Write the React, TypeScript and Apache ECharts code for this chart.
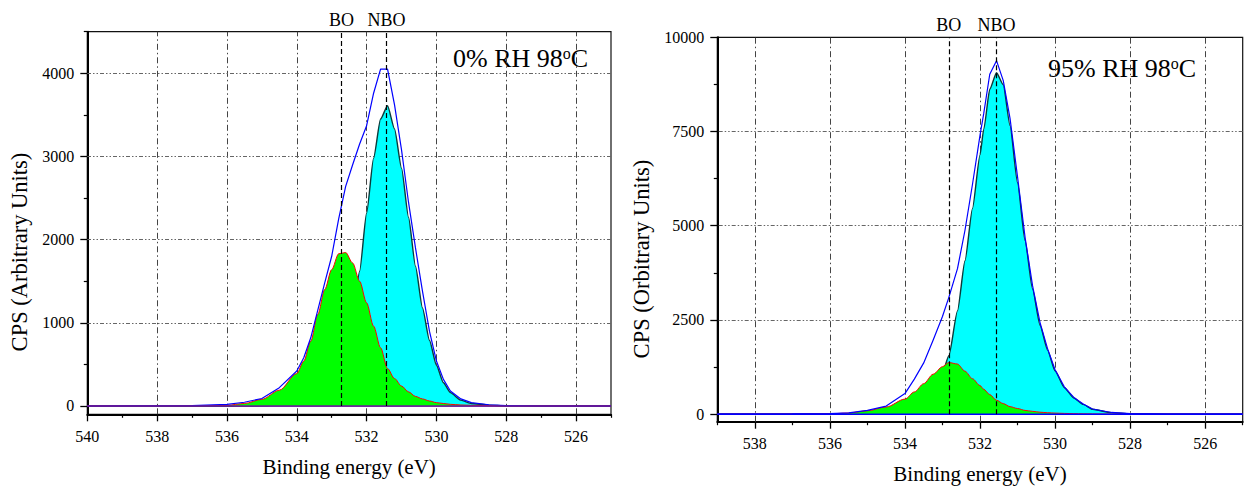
import React, { useEffect, useRef } from 'react';
import * as echarts from 'echarts';

const FONT = '"Liberation Serif", "Times New Roman", Times, serif';

// ---------- Left panel (0% RH 98 oC) ----------
const leftEnergy = [540, 537, 536, 535.5, 535, 534.5, 534, 533.8, 533.6, 533.4, 533.2, 533, 532.8, 532.6, 532.4, 532.2, 532, 531.8, 531.6, 531.4, 531.2, 531, 530.8, 530.6, 530.4, 530.2, 530, 529.8, 529.6, 529.3, 529, 528.5, 528, 527, 525];
const leftEnvelope = [0, 5, 20, 45, 90, 220, 420, 580, 820, 1150, 1480, 1800, 2250, 2640, 2900, 3150, 3370, 3760, 4050, 4050, 3620, 3080, 2450, 1900, 1380, 900, 540, 320, 180, 85, 40, 15, 5, 0, 0];
const leftBO = [0, 3, 8, 30, 80, 190, 390, 540, 780, 1100, 1400, 1640, 1830, 1845, 1720, 1500, 1240, 960, 700, 450, 330, 240, 170, 115, 85, 60, 40, 30, 20, 12, 8, 4, 2, 0, 0];
const leftNBO = [0, 0, 0, 2, 5, 12, 30, 45, 70, 110, 170, 280, 450, 700, 1100, 1620, 2320, 2980, 3450, 3610, 3330, 2860, 2270, 1680, 1180, 790, 490, 280, 160, 70, 30, 10, 3, 0, 0];
const leftPeakPositions = [532.72, 531.43];
const leftXMajor = [526, 528, 530, 532, 534, 536, 538, 540];
const leftXMinor = [525, 527, 529, 531, 533, 535, 537, 539];
const leftYMajor = [0, 1000, 2000, 3000, 4000];
const leftYMinor = [500, 1500, 2500, 3500, 4500];
const leftXGrid = [526, 528, 530, 532, 534, 536, 538];
const leftYGrid = [1000, 2000, 3000, 4000];

// ---------- Right panel (95% RH 98 oC) ----------
const rightEnergy = [539, 537, 536, 535.5, 535, 534.5, 534, 533.75, 533.5, 533.25, 533, 532.83, 532.6, 532.4, 532.2, 532, 531.9, 531.74, 531.56, 531.38, 531.2, 531, 530.8, 530.6, 530.4, 530.2, 530, 529.75, 529.5, 529.25, 529, 528.5, 528, 527, 525];
const rightEnvelope = [0, 5, 12, 35, 100, 215, 545, 930, 1360, 1960, 2590, 3100, 3860, 4880, 6100, 7400, 7980, 9020, 9380, 8850, 7850, 6300, 4700, 3410, 2430, 1740, 1180, 720, 445, 270, 137, 45, 14, 2, 0];
const rightBO = [0, 3, 10, 30, 90, 190, 400, 590, 810, 1060, 1260, 1370, 1330, 1140, 940, 760, 660, 520, 370, 280, 200, 150, 100, 75, 52, 38, 28, 20, 14, 10, 7, 3, 1, 0, 0];
const rightNBO = [0, 0, 5, 12, 30, 70, 150, 250, 420, 700, 1100, 1550, 2740, 4070, 5460, 6880, 7560, 8620, 9060, 8740, 7660, 6140, 4610, 3320, 2360, 1700, 1150, 700, 430, 260, 130, 40, 12, 0, 0];
const rightPeakPositions = [532.83, 531.56];
const rightXMajor = [526, 528, 530, 532, 534, 536, 538];
const rightXMinor = [525, 527, 529, 531, 533, 535, 537, 539];
const rightYMajor = [0, 2500, 5000, 7500, 10000];
const rightYMinor = [1250, 3750, 6250, 8750];
const rightXGrid = [526, 528, 530, 532, 534, 536, 538];
const rightYGrid = [2500, 5000, 7500];

const peakNames = ['BO', 'NBO'];
const panelTitles = ['0% RH 98', '95% RH 98'];
const yAxisTitles = ['CPS (Arbitrary Units)', 'CPS (Orbitrary Units)'];
const xAxisTitle = 'Binding energy (eV)';

type Panel = {
  energy: number[]; envelope: number[]; bo: number[]; nbo: number[]; peaks: number[];
  xMin: number; xMax: number; yMin: number; yMax: number;
  xMajor: number[]; xMinor: number[]; yMajor: number[]; yMinor: number[];
  xGrid: number[]; yGrid: number[];
  baselineColor: string;
  grid: { left: number; top: number; width: number; height: number };
  yTitlePos: [number, number];
  insetPos: [number, number];
};

const panels: Panel[] = [
  {
    energy: leftEnergy, envelope: leftEnvelope, bo: leftBO, nbo: leftNBO, peaks: leftPeakPositions,
    xMin: 525, xMax: 540, yMin: -100, yMax: 4500,
    xMajor: leftXMajor, xMinor: leftXMinor, yMajor: leftYMajor, yMinor: leftYMinor,
    xGrid: leftXGrid, yGrid: leftYGrid,
    baselineColor: '#6a1b9a',
    grid: { left: 87.3, top: 31.7, width: 523.7, height: 382.6 },
    yTitlePos: [19, 252],
    insetPos: [453, 45],
  },
  {
    energy: rightEnergy, envelope: rightEnvelope, bo: rightBO, nbo: rightNBO, peaks: rightPeakPositions,
    xMin: 525, xMax: 539, yMin: -200, yMax: 10000,
    xMajor: rightXMajor, xMinor: rightXMinor, yMajor: rightYMajor, yMinor: rightYMinor,
    xGrid: rightXGrid, yGrid: rightYGrid,
    baselineColor: '#0000ff',
    grid: { left: 717.3, top: 37.3, width: 525.4, height: 384.4 },
    yTitlePos: [641, 259],
    insetPos: [1048, 55],
  },
];

function buildOption() {
  const grids: any[] = [];
  const xAxes: any[] = [];
  const yAxes: any[] = [];
  const series: any[] = [];
  const graphic: any[] = [];
  const fmt = (v: number) => String(v);

  panels.forEach((p, g) => {
    grids.push({
      ...p.grid, show: true, borderColor: '#111', borderWidth: 1.2,
      backgroundColor: 'transparent', containLabel: false, outerBoundsMode: 'none',
    });
    const labelStyle = { color: '#000', fontSize: 16, fontFamily: FONT, formatter: fmt };
    xAxes.push({
      type: 'value', gridIndex: g, min: p.xMin, max: p.xMax, inverse: true, position: 'bottom',
      axisLine: { show: true, onZero: false, lineStyle: { color: '#000', width: 2 } },
      axisTick: { show: true, customValues: p.xMajor, length: 7, lineStyle: { color: '#000', width: 1.3 } },
      axisLabel: { show: true, customValues: p.xMajor, margin: 14, ...labelStyle },
      splitLine: { show: false },
      name: xAxisTitle, nameLocation: 'middle', nameGap: 42,
      nameTextStyle: { color: '#000', fontSize: 21, fontFamily: FONT },
    });
    xAxes.push({
      type: 'value', gridIndex: g, min: p.xMin, max: p.xMax, inverse: true, position: 'bottom',
      axisLine: { show: false, onZero: false },
      axisTick: { show: true, customValues: p.xMinor, length: 3.5, lineStyle: { color: '#000', width: 1.2 } },
      axisLabel: { show: false },
      splitLine: { show: false },
    });
    yAxes.push({
      type: 'value', gridIndex: g, min: p.yMin, max: p.yMax, position: 'left',
      axisLine: { show: true, onZero: false, lineStyle: { color: '#000', width: 2 } },
      axisTick: { show: true, customValues: p.yMajor, length: 7, lineStyle: { color: '#000', width: 1.3 } },
      axisLabel: { show: true, customValues: p.yMajor, margin: 13, ...labelStyle },
      splitLine: { show: false },
    });
    yAxes.push({
      type: 'value', gridIndex: g, min: p.yMin, max: p.yMax, position: 'left',
      axisLine: { show: false, onZero: false },
      axisTick: { show: true, customValues: p.yMinor, length: 3.5, lineStyle: { color: '#000', width: 1.2 } },
      axisLabel: { show: false },
      splitLine: { show: false },
    });

    const xi = 2 * g;
    const yi = 2 * g;
    const common = {
      type: 'line', xAxisIndex: xi, yAxisIndex: yi, showSymbol: false, symbol: 'none',
      silent: true, emphasis: { disabled: true }, animation: false,
    };
    const vStyle = { color: '#444', width: 1, type: [6, 3, 1.5, 3] };
    const hStyle = { color: '#666', width: 1, type: [4, 2, 1.5, 2, 1.5, 2] };

    // grid lines host
    series.push({
      ...common, name: 'gridhost' + g, z: 1,
      data: [[p.xMax, 0], [p.xMin, 0]],
      lineStyle: { color: p.baselineColor, width: 1.5 },
      markLine: {
        silent: true, z: 1, symbol: ['none', 'none'], animation: false,
        label: { show: false }, emphasis: { disabled: true },
        data: [
          ...p.xGrid.map((v) => ({ xAxis: v, lineStyle: vStyle })),
          ...p.yGrid.map((v) => ({ yAxis: v, lineStyle: hStyle })),
        ],
      },
    });
    // NBO component
    series.push({
      ...common, name: 'NBO' + g, z: 2, smooth: 0.2, smoothMonotone: 'x',
      data: p.energy.map((e, i) => [e, p.nbo[i]]),
      lineStyle: { color: '#0b3b3b', width: 1.4 },
      areaStyle: { color: '#00ffff', opacity: 1 },
    });
    // BO component
    series.push({
      ...common, name: 'BO' + g, z: 3, smooth: 0.3, smoothMonotone: 'x',
      data: p.energy.map((e, i) => [e, p.bo[i]]),
      lineStyle: { color: '#ff0000', width: 1 },
      areaStyle: { color: '#00ff00', opacity: 1 },
    });
    // Envelope
    series.push({
      ...common, name: 'Envelope' + g, z: 4,
      data: p.energy.map((e, i) => [e, p.envelope[i]]),
      lineStyle: { color: '#0000ff', width: 1.2 },
      markLine: {
        silent: true, z: 10, symbol: ['none', 'none'], animation: false,
        emphasis: { disabled: true },
        lineStyle: { color: '#000', width: 1.2, type: [5, 3] },
        label: {
          show: true, position: 'end', formatter: '{b}', distance: 3,
          color: '#000', fontSize: 18, fontFamily: FONT,
        },
        data: p.peaks.map((x, i) => [
          { coord: [x, 0], name: peakNames[i] },
          { coord: [x, p.yMax] },
        ]),
      },
    });
    // baseline on top
    series.push({
      ...common, name: 'baseline' + g, z: 5,
      data: [[p.xMax, 0], [p.xMin, 0]],
      lineStyle: { color: p.baselineColor, width: 1.5 },
    });

    graphic.push({
      type: 'text', left: p.insetPos[0], top: p.insetPos[1],
      style: {
        text: panelTitles[g] + '{s|o}C', fontSize: 26, fontFamily: FONT, fill: '#000',
        rich: { s: { fontSize: 16, fontFamily: FONT, fill: '#000', verticalAlign: 'top' } },
      },
    });
    graphic.push({
      type: 'text', x: p.yTitlePos[0], y: p.yTitlePos[1], rotation: Math.PI / 2,
      style: {
        text: yAxisTitles[g], fontSize: 22.5, fontFamily: FONT, fill: '#000',
        align: 'center', verticalAlign: 'middle',
      },
    });
  });

  return {
    animation: false,
    backgroundColor: '#fff',
    grid: grids,
    xAxis: xAxes,
    yAxis: yAxes,
    series,
    graphic,
  };
}

export default function App() {
  const ref = useRef<HTMLDivElement>(null);
  useEffect(() => {
    if (!ref.current) return;
    const chart = echarts.init(ref.current, null, { renderer: 'svg' });
    chart.setOption(buildOption() as any);
    return () => chart.dispose();
  }, []);
  return (
    <div
      ref={ref}
      style={{ position: 'absolute', left: 0, top: 0, width: 1245, height: 491 }}
    />
  );
}
